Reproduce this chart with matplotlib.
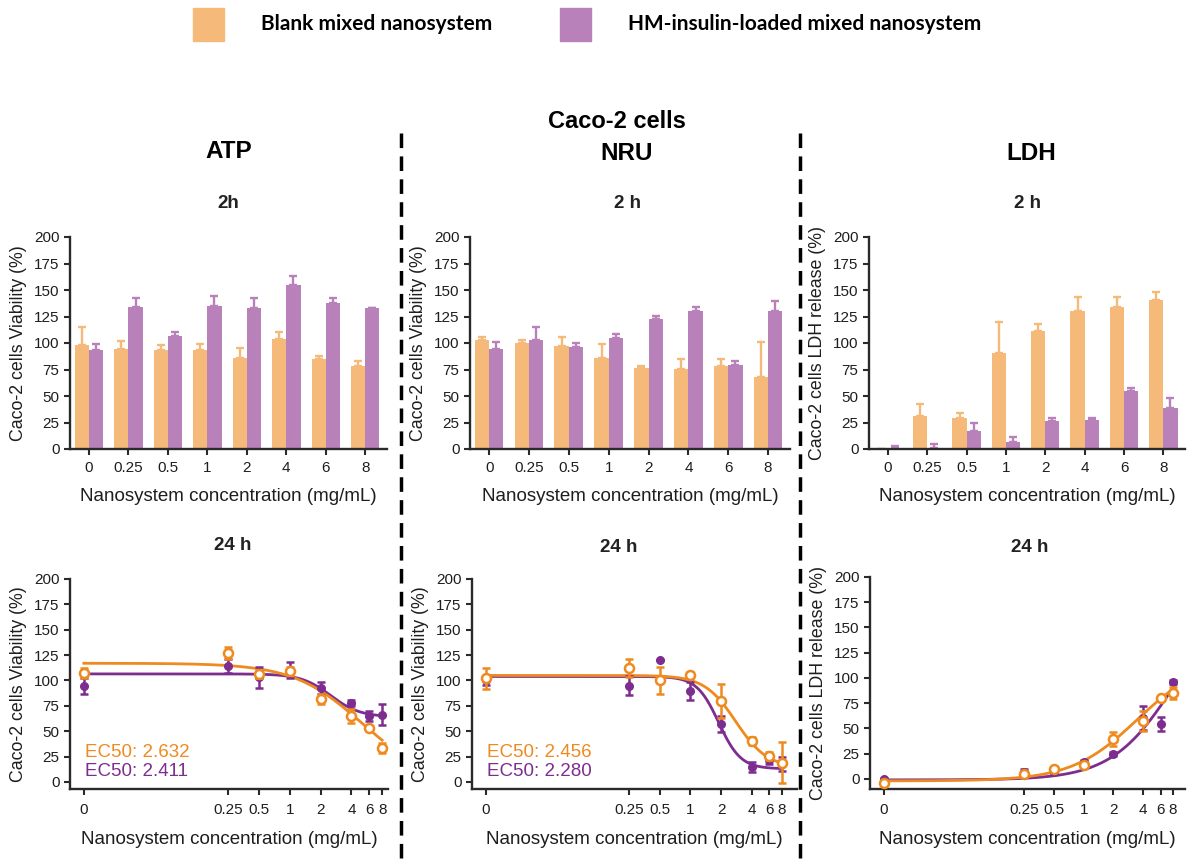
import numpy as np
import matplotlib
matplotlib.use("Agg")
import matplotlib.pyplot as plt
from matplotlib.patches import Rectangle
from matplotlib.lines import Line2D

plt.rcParams['font.family'] = ['Liberation Sans', 'DejaVu Sans']

# ---------------- data ----------------
concs_labels = ["0", "0.25", "0.5", "1", "2", "4", "6", "8"]
concs = [0, 0.25, 0.5, 1, 2, 4, 6, 8]

# 2 h bar data (mean, upper error)
atp2_blank = [98.5, 94.8, 93.5, 93.5, 86, 103.6, 84.7, 78.7]
atp2_blank_err = [17, 7, 4.5, 5.5, 9.4, 7, 3.3, 4]
atp2_hm = [93.5, 133.5, 106.8, 134.5, 132.6, 154.6, 137.6, 133]
atp2_hm_err = [5.5, 9, 3.2, 9.5, 10, 8.2, 4.8, 0]

nru2_blank = [102.4, 99.8, 97.3, 85.7, 76.5, 75.3, 78.7, 67.7]
nru2_blank_err = [3.6, 3.2, 8.2, 13.3, 2, 10, 6, 32.8]
nru2_hm = [94.5, 102.4, 96, 104.6, 123, 130.4, 79.4, 130.4]
nru2_hm_err = [6, 12.6, 4, 4, 2.7, 4, 3.4, 9.4]

ldh2_blank = [0, 31.5, 29.3, 90.4, 111.2, 130, 134, 140.8]
ldh2_blank_err = [0, 10.7, 5, 29, 6.6, 13, 9, 7]
ldh2_hm = [1, 0.5, 17, 6.6, 26.8, 27.4, 54.8, 38.4]
ldh2_hm_err = [2, 4, 8, 5, 2, 1.6, 3, 9.5]

# 24 h dose-response data (mean, sd)
atp24_blank = [107.6, 127.3, 106, 109.5, 81.5, 65, 53, 33.5]
atp24_blank_sd = [5, 6, 4, 4, 5, 7, 2, 5]
atp24_hm = [94.4, 114, 103, 110, 92.5, 78, 65, 66.5]
atp24_hm_sd = [8, 7, 10, 8, 6, 3, 5, 10]

nru24_blank = [102, 112.5, 100, 105, 80, 40.6, 25.7, 19]
nru24_blank_sd = [10, 9, 13, 3, 17, 4, 4, 20]
nru24_hm = [100, 95, 119.8, 89.4, 57, 14.8, 22, 17.5]
nru24_hm_sd = [4, 9, 0, 9, 8, 5, 4, 7]

ldh24_blank = [-3.6, 4.6, 10, 14, 39.3, 57, 80, 85]
ldh24_blank_sd = [1, 3, 2, 3, 7, 10, 2, 6]
ldh24_hm = [0, 7.3, 7, 17, 24.5, 60, 54.5, 96]
ldh24_hm_sd = [1, 3, 1, 2, 2, 12, 7, 2]

# fitted curve parameters: (value at low conc, value at high conc, midpoint, hill)
atp_fit_blank = (117, 0, 5.0, 1.3)
atp_fit_hm = (106.5, 64, 2.5, 3.0)
nru_fit_blank = (105, 14, 2.8, 2.8)
nru_fit_hm = (104, 13, 1.9, 4.0)
ldh_fit_blank = (-2, 120, 3.5, 1.3)
ldh_fit_hm = (-1, 190, 8.5, 1.35)

ec50_atp = ("EC50: 2.632", "EC50: 2.411")
ec50_nru = ("EC50: 2.456", "EC50: 2.280")

# ---------------- style ----------------
BAR_OR = "#F5B979"
BAR_PU = "#B981BA"
LN_OR = "#EF8A1F"
LN_PU = "#7D2D8F"
AX_C = "#2a2a2a"
TXT_C = "#1e1e1e"
ZERO_LOG2 = -6.7

W, H = 1188, 864
fig = plt.figure(figsize=(W / 100, H / 100), dpi=100)


def rect(l, t, r, b):
    return [l / W, 1 - b / H, (r - l) / W, (b - t) / H]


def style_axes(ax):
    for s in ["top", "right"]:
        ax.spines[s].set_visible(False)
    for s in ["left", "bottom"]:
        ax.spines[s].set_linewidth(1.7)
        ax.spines[s].set_color(AX_C)
    ax.tick_params(direction="out", length=4, width=1.5, colors=AX_C,
                   labelsize=11, labelcolor=TXT_C)
    ax.set_yticks(np.arange(0, 201, 25))


def bar_panel(box, blank, blank_err, hm, hm_err, ylabel):
    ax = fig.add_axes(rect(*box))
    x = np.arange(len(concs_labels))
    w = 0.36
    ax.bar(x - w / 2, blank, w, color=BAR_OR, zorder=2)
    ax.bar(x + w / 2, hm, w, color=BAR_PU, zorder=2)
    ax.errorbar(x - w / 2, blank, yerr=[np.zeros(len(blank)), blank_err],
                fmt="none", ecolor=BAR_OR, elinewidth=1.7, capsize=2.8,
                capthick=1.7, zorder=1)
    ax.errorbar(x + w / 2, hm, yerr=[np.zeros(len(hm)), hm_err],
                fmt="none", ecolor=BAR_PU, elinewidth=1.7, capsize=2.8,
                capthick=1.7, zorder=1)
    ax.set_xlim(-0.48, 7.55)
    ax.set_ylim(0, 200)
    style_axes(ax)
    ax.set_xticks(x)
    ax.set_xticklabels(concs_labels)
    ax.tick_params(axis="x", pad=5)
    ax.set_ylabel(ylabel, fontsize=12.8, labelpad=5, color=TXT_C)
    ax.set_xlabel("Nanosystem concentration (mg/mL)", fontsize=13.5,
                  labelpad=9, color=TXT_C)
    return ax


def xpos(c):
    return np.array([2.0 ** ZERO_LOG2 if v == 0 else v for v in c], float)


def curve(params, xs):
    lo, hi, mid, h = params
    r = (xs / mid) ** h
    return lo + (hi - lo) * r / (1 + r)


def dr_panel(box, xl, yl, blank, bsd, hm, hsd, fb, fh, ylabel, ec50=None):
    ax = fig.add_axes(rect(*box))
    ax.set_xscale("log", base=2)
    xs = np.logspace(ZERO_LOG2, 3, 300, base=2)
    ax.plot(xs, curve(fh, xs), color=LN_PU, lw=2.0, zorder=2)
    ax.plot(xs, curve(fb, xs), color=LN_OR, lw=2.0, zorder=3)
    xp = xpos(concs)
    ax.errorbar(xp, hm, yerr=hsd, fmt="o", color=LN_PU, ms=5.5,
                elinewidth=1.8, capsize=3, capthick=1.8, zorder=4)
    ax.errorbar(xp, blank, yerr=bsd, fmt="o", color=LN_OR, mfc="white",
                mec=LN_OR, mew=1.8, ms=6.5, elinewidth=1.8, capsize=3,
                capthick=1.8, zorder=5)
    ax.set_xlim(2.0 ** xl[0], 2.0 ** xl[1])
    ax.set_ylim(*yl)
    style_axes(ax)
    ax.set_xticks(xp)
    ax.set_xticklabels(concs_labels)
    ax.xaxis.set_minor_locator(matplotlib.ticker.NullLocator())
    ax.tick_params(axis="x", pad=6)
    ax.set_ylabel(ylabel, fontsize=12.8, labelpad=5, color=TXT_C)
    ax.set_xlabel("Nanosystem concentration (mg/mL)", fontsize=13.5,
                  labelpad=10, color=TXT_C)
    if ec50:
        ax.text(0.047, 0.176, ec50[0], transform=ax.transAxes, color=LN_OR,
                fontsize=13.5, va="center", ha="left")
        ax.text(0.047, 0.081, ec50[1], transform=ax.transAxes, color=LN_PU,
                fontsize=13.5, va="center", ha="left")
    return ax


VIAB = "Caco-2 cells Viability (%)"
LDHL = "Caco-2 cells LDH release (%)"

bar_panel((70, 237, 387, 449), atp2_blank, atp2_blank_err, atp2_hm, atp2_hm_err, VIAB)
bar_panel((470, 237, 790, 449), nru2_blank, nru2_blank_err, nru2_hm, nru2_hm_err, VIAB)
bar_panel((869, 237, 1185, 449), ldh2_blank, ldh2_blank_err, ldh2_hm, ldh2_hm_err, LDHL)

dr_panel((70, 579, 388, 789), (-7.15, 3.19), (-6.9, 200), atp24_blank, atp24_blank_sd,
         atp24_hm, atp24_hm_sd, atp_fit_blank, atp_fit_hm, VIAB, ec50_atp)
dr_panel((472, 579, 797, 789), (-7.16, 3.49), (-6.9, 200), nru24_blank, nru24_blank_sd,
         nru24_hm, nru24_hm_sd, nru_fit_blank, nru_fit_hm, VIAB, ec50_nru)
dr_panel((870, 577, 1185, 789), (-7.17, 3.4), (-10, 200), ldh24_blank, ldh24_blank_sd,
         ldh24_hm, ldh24_hm_sd, ldh_fit_blank, ldh_fit_hm, LDHL)


def ftext(x, y, s, size, weight="bold", color="black", ha="center", family=None):
    kw = {}
    if family:
        kw["family"] = family
    fig.text(x / W, 1 - y / H, s, fontsize=size, fontweight=weight, color=color,
             ha=ha, va="center", **kw)


# headings
ftext(617, 121, "Caco-2 cells", 17)
ftext(229, 152, "ATP", 17.5)
ftext(627, 153, "NRU", 17.5)
ftext(1031, 153, "LDH", 17.5)
ftext(228, 204, "2h", 13.5, color="#222222")
ftext(628, 204, "2 h", 13.5, color="#222222")
ftext(1028, 204, "2 h", 13.5, color="#222222")
ftext(233, 546, "24 h", 13.5, color="#222222")
ftext(619, 547, "24 h", 13.5, color="#222222")
ftext(1030, 547, "24 h", 13.5, color="#222222")

# dashed separators
for xx in (401, 800):
    fig.add_artist(Line2D([xx / W, xx / W], [1 - 133 / H, 0], color="black",
                          lw=2.5, dashes=(4.2, 2.4), transform=fig.transFigure))

# legend
fig.add_artist(Rectangle((193 / W, 1 - 41 / H), 31 / W, 33 / H, color=BAR_OR,
                         transform=fig.transFigure))
fig.add_artist(Rectangle((560 / W, 1 - 41 / H), 31 / W, 33 / H, color=BAR_PU,
                         transform=fig.transFigure))
ftext(261, 24, "Blank mixed nanosystem", 15, ha="left", family=["Lato", "DejaVu Sans"])
ftext(628, 24, "HM-insulin-loaded mixed nanosystem", 15, ha="left",
      family=["Lato", "DejaVu Sans"])

fig.savefig("out.png", dpi=100, facecolor="white")
